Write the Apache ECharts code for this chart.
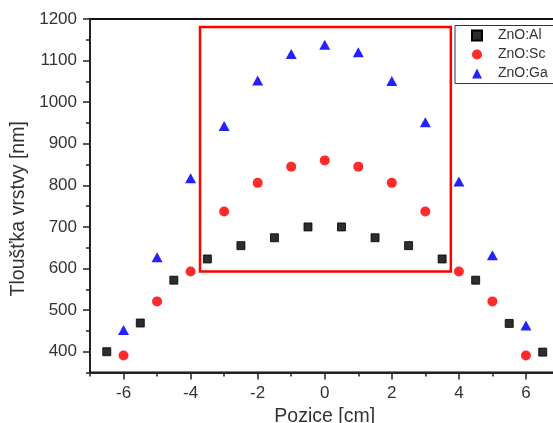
<!DOCTYPE html>
<html>
<head>
<meta charset="utf-8">
<script src="https://cdn.jsdelivr.net/npm/echarts@6/dist/echarts.min.js"></script>
<style>
  html, body { margin: 0; padding: 0; background: #fff; }
  #chart { width: 553px; height: 423px; }
</style>
</head>
<body>
<div id="chart"></div>
<script>
// ZnO:Al - black squares
const alX = [-6.5, -5.5, -4.5, -3.5, -2.5, -1.5, -0.5, 0.5, 1.5, 2.5, 3.5, 4.5, 5.5, 6.5]
const alY = [400, 469, 572, 623, 655, 674, 700, 700, 674, 655, 623, 572, 468, 399]
// ZnO:Sc - red circles
const scX = [-6, -5, -4, -3, -2, -1, 0, 1, 2, 3, 4, 5, 6]
const scY = [391, 521, 593, 737, 806, 845, 860, 845, 806, 737, 593, 521, 391]
// ZnO:Ga - blue triangles
const gaX = [-6, -5, -4, -3, -2, -1, 0, 1, 2, 3, 4, 5, 6]
const gaY = [452, 627, 817, 943, 1052, 1116, 1138, 1120, 1051, 952, 809, 632, 463]

// tick labels
const xLabels = [-6, -4, -2, 0, 2, 4, 6]
const yLabels = [400, 500, 600, 700, 800, 900, 1000, 1100, 1200]

// red box (in data units)
const boxX = [-3.72, 3.76]
const boxY = [593, 1181]

const zip = (xs, ys) => xs.map((x, i) => [x, ys[i]])

const font = 'Liberation Sans'
const chart = echarts.init(document.getElementById('chart'))

const baseX = {
  type: 'value', min: -7, max: 7, interval: 1, position: 'bottom',
  splitLine: { show: false }
}
const baseY = {
  type: 'value', min: 350, max: 1200, interval: 50, position: 'left',
  splitLine: { show: false }
}

const option = {
  animation: false,
  grid: {
    left: 90, top: 19, right: -6.5, bottom: 50.5,
    outerBoundsMode: 'none',
    show: true, borderColor: '#111', borderWidth: 2
  },
  legend: {
    orient: 'vertical',
    left: 455, top: 25.5,
    padding: [3, 6, 3, 16],
    borderColor: '#333', borderWidth: 1,
    itemWidth: 10, itemHeight: 10, itemGap: 5,
    textStyle: { fontFamily: font, fontSize: 14, color: '#333', lineHeight: 14, padding: [0, 0, 0, 11] },
    data: ['ZnO:Al', 'ZnO:Sc', 'ZnO:Ga']
  },
  xAxis: [
    {
      ...baseX,
      name: 'Pozice [cm]', nameLocation: 'middle', nameGap: 29,
      nameTextStyle: { fontFamily: font, fontSize: 19.5, color: '#333' },
      axisLine: { onZero: false, lineStyle: { color: '#222', width: 2 } },
      axisTick: { length: 4, lineStyle: { color: '#222', width: 1.5 } },
      axisLabel: { customValues: xLabels, margin: 12, fontFamily: font, fontSize: 17, color: '#333' }
    },
    {
      ...baseX,
      axisLine: { show: false, onZero: false },
      axisTick: { customValues: xLabels, length: 7, lineStyle: { color: '#222', width: 1.5 } },
      axisLabel: { show: false }
    }
  ],
  yAxis: [
    {
      ...baseY,
      name: 'Tloušťka vrstvy [nm]', nameLocation: 'middle', nameGap: 61,
      nameTextStyle: { fontFamily: font, fontSize: 19.5, color: '#333', padding: [0, 26, 0, 0] },
      axisLine: { show: true, onZero: false, lineStyle: { color: '#222', width: 2 } },
      axisTick: { show: true, length: 4, lineStyle: { color: '#222', width: 1.5 } },
      axisLabel: {
        customValues: yLabels, margin: 13, fontFamily: font, fontSize: 17, color: '#333',
        formatter: v => String(v)
      }
    },
    {
      ...baseY,
      axisLine: { show: false, onZero: false },
      axisTick: { show: true, customValues: yLabels, length: 7, lineStyle: { color: '#222', width: 1.5 } },
      axisLabel: { show: false }
    }
  ],
  series: [
    {
      name: 'ZnO:Al', type: 'scatter', symbol: 'rect', symbolSize: 8,
      itemStyle: { color: '#2d2d2d', borderColor: '#000', borderWidth: 0.8, opacity: 1 },
      data: zip(alX, alY),
      markArea: {
        silent: true,
        itemStyle: { color: 'transparent', borderColor: '#ff0000', borderWidth: 2.5 },
        data: [[{ coord: [boxX[0], boxY[1]] }, { coord: [boxX[1], boxY[0]] }]]
      }
    },
    {
      name: 'ZnO:Sc', type: 'scatter', symbol: 'circle', symbolSize: 10,
      itemStyle: { color: '#ff2a2a', opacity: 1 },
      data: zip(scX, scY)
    },
    {
      name: 'ZnO:Ga', type: 'scatter', symbol: 'triangle', symbolSize: [11, 10],
      itemStyle: { color: '#2222ff', opacity: 1 },
      data: zip(gaX, gaY)
    }
  ]
}

chart.setOption(option)
</script>
</body>
</html>
